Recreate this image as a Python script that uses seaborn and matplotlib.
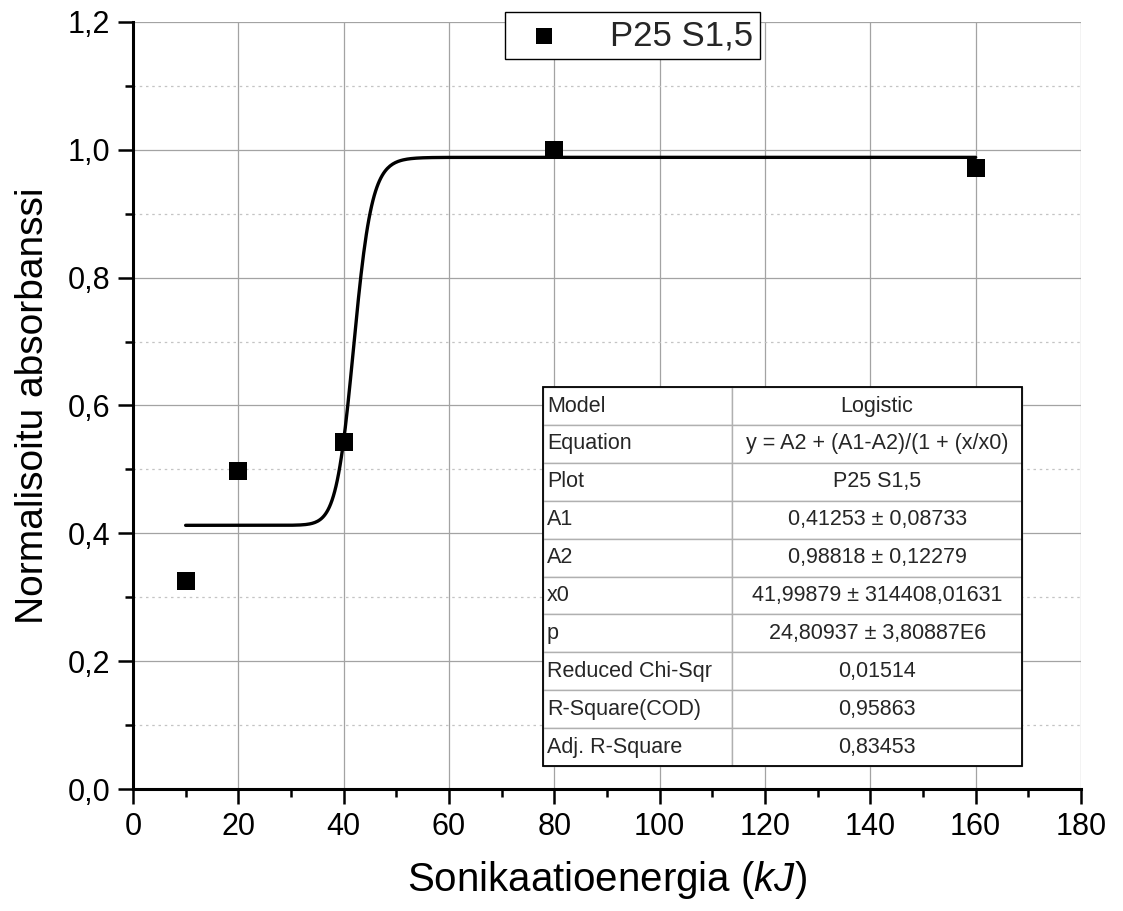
import numpy as np
import pandas as pd
import matplotlib
matplotlib.use("Agg")
import matplotlib.pyplot as plt
from matplotlib.ticker import MultipleLocator, FixedLocator
from matplotlib.patches import Rectangle
import seaborn as sns

# ---- data ----
energy_kj = [10, 20, 40, 80, 160]
absorbance = [0.325, 0.497, 0.543, 1.000, 0.972]
series_name = "P25 S1,5"

# logistic fit parameters (from the fit table)
A1 = 0.41253
A2 = 0.98818
x0 = 41.99879
p = 24.80937

table_labels = ["Model", "Equation", "Plot", "A1", "A2", "x0", "p",
                "Reduced Chi-Sqr", "R-Square(COD)", "Adj. R-Square"]
table_values = ["Logistic", "y = A2 + (A1-A2)/(1 + (x/x0)", "P25 S1,5",
                "0,41253 ± 0,08733", "0,98818 ± 0,12279",
                "41,99879 ± 314408,01631", "24,80937 ± 3,80887E6",
                "0,01514", "0,95863", "0,83453"]

x_ticks = [0, 20, 40, 60, 80, 100, 120, 140, 160, 180]
y_ticks = [0.0, 0.2, 0.4, 0.6, 0.8, 1.0, 1.2]
y_ticklabels = ["0,0", "0,2", "0,4", "0,6", "0,8", "1,0", "1,2"]

# ---- style ----
sns.set_style("white")
plt.rcParams["font.family"] = ["Liberation Sans", "DejaVu Sans"]
plt.rcParams["mathtext.fontset"] = "custom"
plt.rcParams["mathtext.it"] = "Liberation Sans:italic"
plt.rcParams["mathtext.rm"] = "Liberation Sans"

fig = plt.figure(figsize=(11.23, 9.11), dpi=100)
ax = fig.add_axes([0.1184, 0.1339, 0.8442, 0.8420])

df = pd.DataFrame({"x": energy_kj, "y": absorbance})
xf = np.linspace(min(energy_kj), max(energy_kj), 600)
yf = A2 + (A1 - A2) / (1 + (xf / x0) ** p)
dfit = pd.DataFrame({"x": xf, "y": yf})

sns.lineplot(data=dfit, x="x", y="y", ax=ax, color="black", lw=2.4,
             zorder=3, legend=False)
sns.scatterplot(data=df, x="x", y="y", ax=ax, marker="s", s=170,
                color="black", edgecolor="black", linewidth=0, zorder=4,
                label=series_name)

ax.set_xlim(0, 180)
ax.set_ylim(0, 1.2)
ax.xaxis.set_major_locator(FixedLocator(x_ticks))
ax.xaxis.set_minor_locator(MultipleLocator(10))
ax.yaxis.set_major_locator(FixedLocator(y_ticks))
ax.yaxis.set_minor_locator(MultipleLocator(0.1))
ax.set_yticklabels(y_ticklabels)

ax.grid(which="major", color="#a3a3a3", lw=0.9, ls="-", zorder=0)
ax.grid(which="minor", axis="y", color="#c4c4c4", lw=0.9, ls=(0, (2, 3)), zorder=0)
ax.set_axisbelow(True)

for s in ["top", "right"]:
    ax.spines[s].set_visible(False)
for s in ["left", "bottom"]:
    ax.spines[s].set_linewidth(2.2)
    ax.spines[s].set_color("black")

ax.tick_params(which="major", direction="out", length=10.5, width=1.8,
               labelsize=22, pad=6, colors="black")
ax.tick_params(which="minor", direction="out", length=6, width=1.8,
               colors="black")
ax.tick_params(axis="both", which="both", bottom=True, left=True)

ax.set_xlabel("Sonikaatioenergia ($\\it{kJ}$)", fontsize=29, labelpad=12,
              color="black")
ax.set_ylabel("Normalisoitu absorbanssi", fontsize=28, labelpad=12,
              color="black")

leg = ax.legend(loc="upper center", bbox_to_anchor=(0.527, 1.0125),
                fontsize=25, frameon=True, fancybox=False, handletextpad=1.0,
                borderpad=0.2, markerscale=0.85, handlelength=1.8,
                borderaxespad=0)
leg.get_frame().set_edgecolor("black")
leg.get_frame().set_linewidth(1.0)
leg.get_frame().set_alpha(1)

# ---- fit result table ----
tx0, ty0, tw, th = 0.4325, 0.030, 0.5053, 0.494
c1 = 0.395 * tw
tbl = ax.table(cellText=[[a, b] for a, b in zip(table_labels, table_values)],
               colWidths=[c1, tw - c1], bbox=[tx0, ty0, tw, th],
               cellLoc="center", zorder=6)
tbl.auto_set_font_size(False)
for (r, c), cell in tbl.get_celld().items():
    cell.set_edgecolor("#b0b0b0")
    cell.set_linewidth(1.0)
    cell.set_facecolor("white")
    cell.get_text().set_fontsize(15.5)
    cell.get_text().set_va("center")
    if c == 0:
        cell.get_text().set_ha("left")
        cell.PAD = 0.02
    else:
        cell.get_text().set_ha("center")
ax.add_patch(Rectangle((tx0, ty0), tw, th, transform=ax.transAxes,
                       fill=False, edgecolor="black", lw=1.3, zorder=7,
                       clip_on=False))

fig.savefig("out.png", dpi=100)
